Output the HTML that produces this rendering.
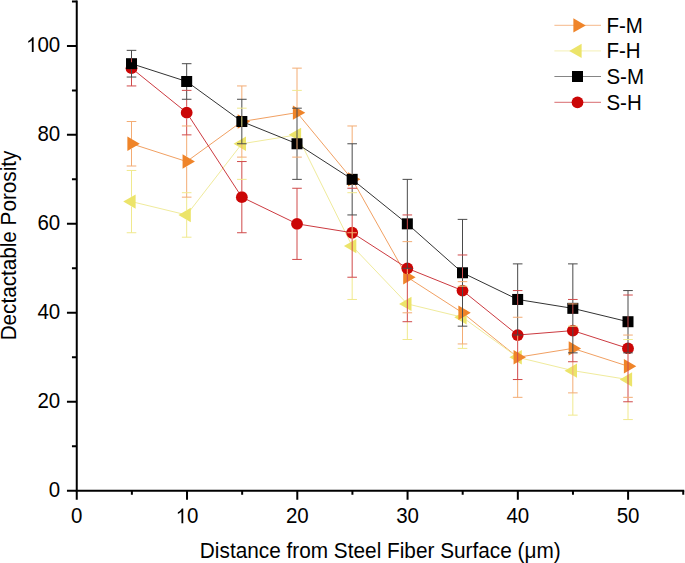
<!DOCTYPE html>
<html><head><meta charset="utf-8"><style>
html,body{margin:0;padding:0;background:#fff;}
svg{display:block;}
</style></head><body>
<svg width="685" height="563" viewBox="0 0 685 563">
<rect width="685" height="563" fill="#fff"/>
<g stroke="#000" stroke-width="2" fill="none" stroke-linecap="butt">
<path d="M76.75 0.41V491.75M75.75 490.75H684.24"/>
<path d="M66.95 490.75H76.75M71.95 446.26H76.75M66.95 401.78H76.75M71.95 357.29H76.75M66.95 312.81H76.75M71.95 268.32H76.75M66.95 223.84H76.75M71.95 179.36H76.75M66.95 134.87H76.75M71.95 90.38H76.75M66.95 45.90H76.75M71.95 1.41H76.75M76.75 490.75V499.75M131.88 490.75V494.75M187.02 490.75V499.75M242.16 490.75V494.75M297.29 490.75V499.75M352.42 490.75V494.75M407.56 490.75V499.75M462.69 490.75V494.75M517.83 490.75V499.75M572.96 490.75V494.75M628.10 490.75V499.75M683.24 490.75V494.75"/>
</g>
<g font-family="Liberation Sans, sans-serif" font-size="20.5" fill="#000">
<text transform="translate(48.80 496.85) scale(1 1.06)">0</text>
<text transform="translate(37.40 407.88) scale(1 1.06)">20</text>
<text transform="translate(37.40 318.91) scale(1 1.06)">40</text>
<text transform="translate(37.40 229.94) scale(1 1.06)">60</text>
<text transform="translate(37.40 140.97) scale(1 1.06)">80</text>
<path transform="translate(26.00 52.00) scale(0.010010 -0.010010)" d="M763 0L583 0L583 1147C540 1106 480 1064 412 1024C345 985 280 953 223 930L223 1104C318 1149 401 1203 472 1267C544 1331 594 1400 623 1466L763 1466Z"/><text transform="translate(37.40 52.00) scale(1 1.06)">00</text>
<text transform="translate(71.05 523.20) scale(1 1.06)">0</text>
<path transform="translate(175.62 523.20) scale(0.010010 -0.010010)" d="M763 0L583 0L583 1147C540 1106 480 1064 412 1024C345 985 280 953 223 930L223 1104C318 1149 401 1203 472 1267C544 1331 594 1400 623 1466L763 1466Z"/><text transform="translate(187.02 523.20) scale(1 1.06)">0</text>
<text transform="translate(285.89 523.20) scale(1 1.06)">20</text>
<text transform="translate(396.16 523.20) scale(1 1.06)">30</text>
<text transform="translate(506.43 523.20) scale(1 1.06)">40</text>
<text transform="translate(616.70 523.20) scale(1 1.06)">50</text>
</g>
<text font-family="Liberation Sans, sans-serif" font-size="20.7" transform="translate(16.4 245.5) rotate(-90) scale(1 1.035)" text-anchor="middle">Dectactable Porosity</text>
<text font-family="Liberation Sans, sans-serif" font-size="20.8" transform="translate(380.3 557.7) scale(1 1.035)" text-anchor="middle">Distance from Steel Fiber Surface (μm)</text>
<polyline points="131.51,143.77 186.68,161.56 241.84,121.52 297.01,112.63 352.17,179.36 407.34,277.22 462.50,312.81 517.67,357.29 572.83,348.40 628.00,366.19" fill="none" stroke="#F1A062" stroke-width="1"/>
<polyline points="131.51,201.60 186.68,214.94 241.84,143.77 297.01,134.87 352.17,246.08 407.34,303.91 462.50,317.26 517.67,357.29 572.83,370.64 628.00,379.54" fill="none" stroke="#F0EB9C" stroke-width="1"/>
<polyline points="131.51,63.69 186.68,81.49 241.84,121.52 297.01,143.77 352.17,179.36 407.34,223.84 462.50,272.77 517.67,299.46 572.83,308.36 628.00,321.71" fill="none" stroke="#333333" stroke-width="1"/>
<polyline points="131.51,68.14 186.68,112.63 241.84,197.15 297.01,223.84 352.17,232.74 407.34,268.32 462.50,290.57 517.67,335.05 572.83,330.60 628.00,348.40" fill="none" stroke="#CC3A40" stroke-width="1"/>
<path d="M135.65 194.40L123.25 201.60L135.65 208.80Z" fill="#ECE46A"/>
<path d="M190.81 207.74L178.41 214.94L190.81 222.14Z" fill="#ECE46A"/>
<path d="M245.98 136.57L233.58 143.77L245.98 150.97Z" fill="#ECE46A"/>
<path d="M301.14 127.67L288.74 134.87L301.14 142.07Z" fill="#ECE46A"/>
<path d="M356.31 238.88L343.91 246.08L356.31 253.28Z" fill="#ECE46A"/>
<path d="M411.47 296.71L399.07 303.91L411.47 311.11Z" fill="#ECE46A"/>
<path d="M466.64 310.06L454.24 317.26L466.64 324.46Z" fill="#ECE46A"/>
<path d="M521.80 350.09L509.40 357.29L521.80 364.49Z" fill="#ECE46A"/>
<path d="M576.97 363.44L564.57 370.64L576.97 377.84Z" fill="#ECE46A"/>
<path d="M632.13 372.34L619.73 379.54L632.13 386.74Z" fill="#ECE46A"/>
<path d="M127.38 136.57L139.78 143.77L127.38 150.97Z" fill="#EF8429"/>
<path d="M182.55 154.36L194.95 161.56L182.55 168.76Z" fill="#EF8429"/>
<path d="M237.71 114.32L250.11 121.52L237.71 128.72Z" fill="#EF8429"/>
<path d="M292.88 105.43L305.28 112.63L292.88 119.83Z" fill="#EF8429"/>
<path d="M348.04 172.16L360.44 179.36L348.04 186.56Z" fill="#EF8429"/>
<path d="M403.21 270.02L415.61 277.22L403.21 284.42Z" fill="#EF8429"/>
<path d="M458.37 305.61L470.77 312.81L458.37 320.01Z" fill="#EF8429"/>
<path d="M513.54 350.09L525.94 357.29L513.54 364.49Z" fill="#EF8429"/>
<path d="M568.70 341.20L581.10 348.40L568.70 355.60Z" fill="#EF8429"/>
<path d="M623.87 358.99L636.27 366.19L623.87 373.39Z" fill="#EF8429"/>
<circle cx="131.51" cy="68.14" r="5.9" fill="#CB0606"/>
<circle cx="186.68" cy="112.63" r="5.9" fill="#CB0606"/>
<circle cx="241.84" cy="197.15" r="5.9" fill="#CB0606"/>
<circle cx="297.01" cy="223.84" r="5.9" fill="#CB0606"/>
<circle cx="352.17" cy="232.74" r="5.9" fill="#CB0606"/>
<circle cx="407.34" cy="268.32" r="5.9" fill="#CB0606"/>
<circle cx="462.50" cy="290.57" r="5.9" fill="#CB0606"/>
<circle cx="517.67" cy="335.05" r="5.9" fill="#CB0606"/>
<circle cx="572.83" cy="330.60" r="5.9" fill="#CB0606"/>
<circle cx="628.00" cy="348.40" r="5.9" fill="#CB0606"/>
<rect x="126.01" y="58.19" width="11.0" height="11.0" fill="#000000"/>
<rect x="181.18" y="75.99" width="11.0" height="11.0" fill="#000000"/>
<rect x="236.34" y="116.02" width="11.0" height="11.0" fill="#000000"/>
<rect x="291.51" y="138.27" width="11.0" height="11.0" fill="#000000"/>
<rect x="346.67" y="173.86" width="11.0" height="11.0" fill="#000000"/>
<rect x="401.84" y="218.34" width="11.0" height="11.0" fill="#000000"/>
<rect x="457.00" y="267.27" width="11.0" height="11.0" fill="#000000"/>
<rect x="512.17" y="293.96" width="11.0" height="11.0" fill="#000000"/>
<rect x="567.33" y="302.86" width="11.0" height="11.0" fill="#000000"/>
<rect x="622.50" y="316.21" width="11.0" height="11.0" fill="#000000"/>
<path fill="none" stroke="#F0E98E" stroke-width="1" d="M131.51 170.46V196.80M131.51 206.40V232.74M186.68 197.15V210.14M186.68 219.74V237.19M241.84 116.72V126.32M241.84 157.11V161.56M297.01 107.83V108.18M352.17 232.74V238.64M352.17 277.22V299.46M407.34 272.42V274.22M407.34 321.71V339.50M462.50 343.95V348.40M572.83 392.88V415.13M628.00 401.78V419.57"/>
<path fill="none" stroke="#F3AC74" stroke-width="1" d="M131.51 121.52V138.97M131.51 148.57V166.01M186.68 134.87V156.76M186.68 166.36V197.15M241.84 85.94V99.28M241.84 116.02V116.72M241.84 126.32V127.02M241.84 143.77V157.11M297.01 68.14V107.83M297.01 138.27V149.27M352.17 125.97V143.77M352.17 173.86V174.56M352.17 184.16V184.86M352.17 226.84V232.74M407.34 268.32V272.42M462.50 326.16V343.95M517.67 335.05V340.95M517.67 379.54V397.33M572.83 361.74V392.88M628.00 352.85V354.30"/>
<path fill="none" stroke="#D04A4A" stroke-width="1" d="M131.51 58.19V62.24M131.51 77.04V85.94M186.68 99.28V106.73M186.68 118.53V134.87M241.84 161.56V191.25M241.84 203.05V232.74M297.01 188.25V217.94M297.01 229.74V259.43M352.17 214.94V226.84M352.17 238.64V277.22M407.34 218.34V229.34M407.34 274.22V321.71M462.50 267.27V278.27M517.67 293.96V304.96M517.67 340.95V379.54M572.83 302.86V313.86M572.83 352.85V361.74M628.00 316.21V327.21M628.00 354.30V401.78"/>
<path fill="none" stroke="#4A4A4A" stroke-width="1" d="M131.51 50.35V58.19M131.51 69.19V77.04M186.68 63.69V75.99M186.68 86.99V99.28M241.84 99.28V116.02M241.84 127.02V143.77M297.01 108.18V138.27M297.01 149.27V179.36M352.17 143.77V173.86M352.17 184.86V214.94M407.34 179.36V218.34M407.34 229.34V268.32M462.50 219.39V267.27M462.50 278.27V326.16M517.67 263.88V293.96M517.67 304.96V335.05M572.83 263.88V302.86M572.83 313.86V352.85M628.00 290.57V316.21M628.00 327.21V352.85"/>
<path fill="none" stroke="#F0E98E" stroke-width="1" d="M126.71 170.46H136.31M126.71 232.74H136.31M181.88 192.70H191.48M181.88 237.19H191.48M237.04 108.18H246.65M237.04 179.36H246.65M292.21 90.38H301.81M347.37 192.70H356.97M347.37 299.46H356.97M402.54 339.50H412.14M457.70 286.12H467.31M457.70 348.40H467.31M568.03 326.16H577.63M568.03 415.13H577.63M623.20 339.50H632.80M623.20 419.57H632.80"/>
<path fill="none" stroke="#F3AC74" stroke-width="1" d="M126.71 121.52H136.31M126.71 166.01H136.31M181.88 125.97H191.48M181.88 197.15H191.48M237.04 85.94H246.65M237.04 157.11H246.65M292.21 68.14H301.81M292.21 157.11H301.81M347.37 125.97H356.97M347.37 232.74H356.97M402.54 241.63H412.14M402.54 312.81H412.14M457.70 281.67H467.31M457.70 343.95H467.31M512.87 317.26H522.47M512.87 397.33H522.47M568.03 303.91H577.63M568.03 392.88H577.63M623.20 335.05H632.80M623.20 397.33H632.80"/>
<path fill="none" stroke="#D04A4A" stroke-width="1" d="M126.71 85.94H136.31M181.88 90.38H191.48M181.88 134.87H191.48M237.04 161.56H246.65M237.04 232.74H246.65M292.21 188.25H301.81M292.21 259.43H301.81M347.37 188.25H356.97M347.37 277.22H356.97M402.54 214.94H412.14M402.54 321.71H412.14M457.70 254.98H467.31M512.87 290.57H522.47M512.87 379.54H522.47M568.03 299.46H577.63M568.03 361.74H577.63M623.20 295.02H632.80M623.20 401.78H632.80"/>
<path fill="none" stroke="#4A4A4A" stroke-width="1" d="M126.71 50.35H136.31M126.71 77.04H136.31M181.88 63.69H191.48M181.88 99.28H191.48M237.04 99.28H246.65M237.04 143.77H246.65M292.21 108.18H301.81M292.21 179.36H301.81M347.37 143.77H356.97M347.37 214.94H356.97M402.54 179.36H412.14M402.54 268.32H412.14M457.70 219.39H467.31M457.70 326.16H467.31M512.87 263.88H522.47M512.87 335.05H522.47M568.03 263.88H577.63M568.03 352.85H577.63M623.20 290.57H632.80M623.20 352.85H632.80"/>
<path d="M554.4 25.4H601" stroke="#F1A062" stroke-opacity="0.6" stroke-width="1.2"/>
<path d="M573.37 18.20L585.77 25.40L573.37 32.60Z" fill="#EF8429"/>
<text font-family="Liberation Sans, sans-serif" font-size="20.5" transform="translate(606.4 32.60) scale(1 1.05)">F-M</text>
<path d="M554.4 50.9H601" stroke="#F0EB9C" stroke-opacity="0.6" stroke-width="1.2"/>
<path d="M581.63 43.70L569.23 50.90L581.63 58.10Z" fill="#ECE46A"/>
<text font-family="Liberation Sans, sans-serif" font-size="20.5" transform="translate(606.4 58.10) scale(1 1.05)">F-H</text>
<path d="M554.4 76.5H601" stroke="#333333" stroke-opacity="0.6" stroke-width="1.2"/>
<rect x="572.00" y="71.00" width="11.0" height="11.0" fill="#000000"/>
<text font-family="Liberation Sans, sans-serif" font-size="20.5" transform="translate(606.4 83.70) scale(1 1.05)">S-M</text>
<path d="M554.4 102.3H601" stroke="#CC3A40" stroke-opacity="0.6" stroke-width="1.2"/>
<circle cx="577.50" cy="102.30" r="5.9" fill="#CB0606"/>
<text font-family="Liberation Sans, sans-serif" font-size="20.5" transform="translate(606.4 109.50) scale(1 1.05)">S-H</text>
</svg>
</body></html>
